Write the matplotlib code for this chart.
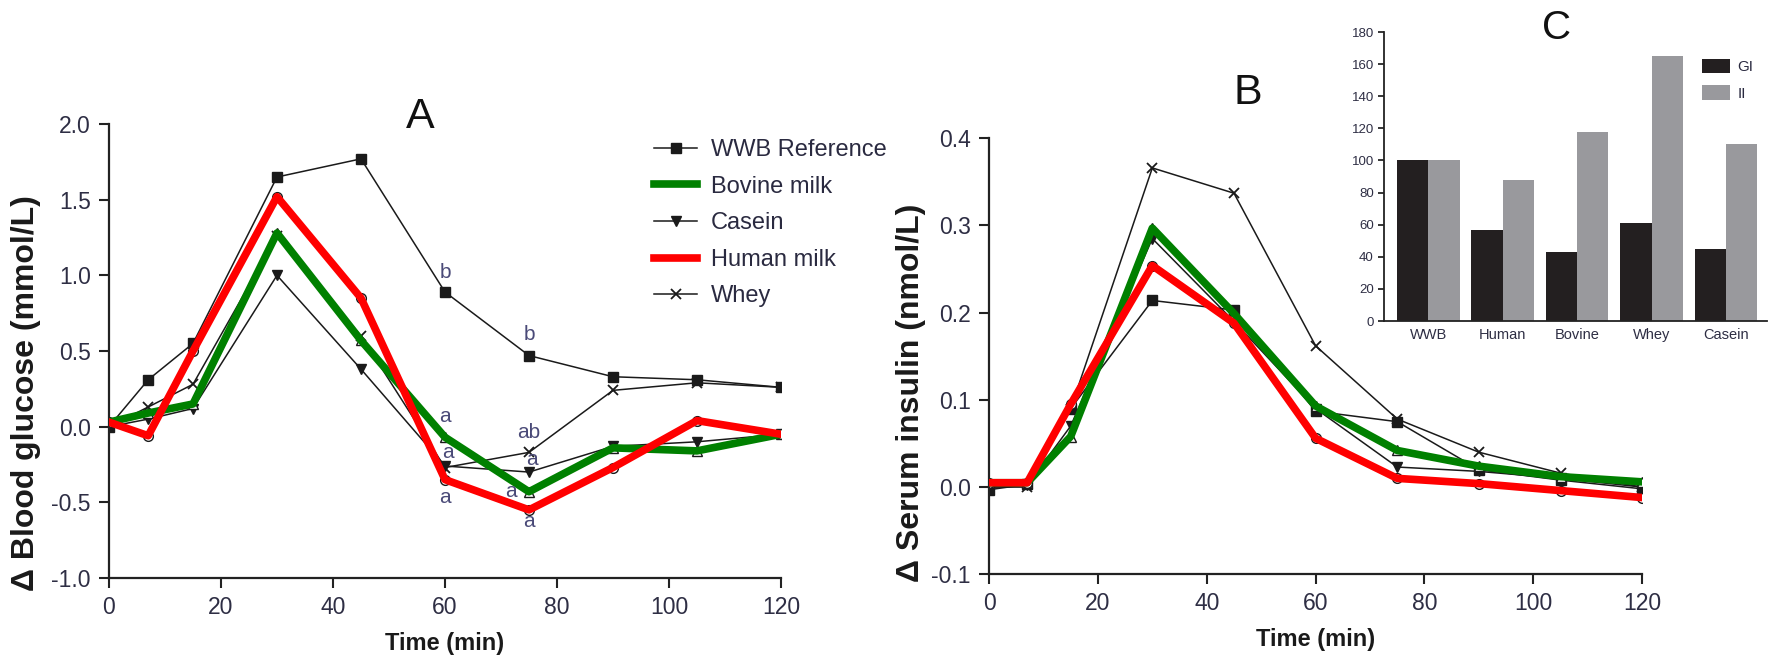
import matplotlib
matplotlib.use('Agg')
import matplotlib.pyplot as plt
from matplotlib.lines import Line2D
import numpy as np

plt.rcParams['font.family'] = ['Liberation Sans', 'DejaVu Sans']

# ─── Data ────────────────────────────────────────────────────────────────────

TIMES = [0, 7, 15, 30, 45, 60, 75, 90, 105, 120]

# Panel A: change in blood glucose (mmol/L)
WWB_A = [0.0, 0.31, 0.55, 1.65, 1.77, 0.89, 0.47, 0.33, 0.31, 0.26]
BOVINE_A = [0.03, 0.09, 0.15, 1.28, 0.57, -0.07, -0.43, -0.14, -0.16, -0.05]
CASEIN_A = [0.0, 0.05, 0.12, 1.0, 0.38, -0.26, -0.30, -0.13, -0.10, -0.05]
HUMAN_A = [0.03, -0.06, 0.50, 1.52, 0.85, -0.35, -0.55, -0.27, 0.04, -0.05]
WHEY_A = [0.0, 0.13, 0.28, 1.26, 0.60, -0.27, -0.17, 0.24, 0.29, 0.26]

# significance letters (time, value, letter)
LETTERS_A = [
    (60, 1.02, 'b'), (75, 0.61, 'b'),
    (60, 0.07, 'a'), (60.5, -0.17, 'a'), (60, -0.47, 'a'),
    (75, -0.04, 'ab'), (75.5, -0.22, 'a'), (71.7, -0.43, 'a'), (75, -0.63, 'a'),
]

# Panel B: change in serum insulin (nmol/L)
WWB_B = [-0.003, 0.003, 0.09, 0.214, 0.203, 0.087, 0.075, 0.02, 0.008, -0.002]
BOVINE_B = [0.005, 0.005, 0.058, 0.297, 0.199, 0.093, 0.042, 0.024, 0.012, 0.006]
CASEIN_B = [0.0, 0.002, 0.07, 0.285, 0.19, 0.09, 0.023, 0.018, 0.01, 0.0]
HUMAN_B = [0.005, 0.005, 0.095, 0.254, 0.188, 0.056, 0.01, 0.004, -0.004, -0.012]
WHEY_B = [0.0, 0.0, 0.09, 0.366, 0.337, 0.162, 0.078, 0.04, 0.016, 0.0]

# Panel C: glycaemic / insulinaemic index
C_GROUPS = ['WWB', 'Human', 'Bovine', 'Whey', 'Casein']
GI = [100, 57, 43, 61, 45]
II = [100, 88, 118, 165, 110]

TEXT = '#2e2e44'
RED = '#ff0000'
GREEN = '#008000'


def style_axes(ax):
    for side in ('top', 'right'):
        ax.spines[side].set_visible(False)
    for side in ('left', 'bottom'):
        ax.spines[side].set_linewidth(1.6)
        ax.spines[side].set_color('#222222')
    ax.tick_params(direction='out', length=7, width=1.5, colors='#222222',
                   labelcolor=TEXT, labelsize=16.5, pad=6)


def draw_curves(ax, wwb, bovine, casein, human, whey):
    kw = dict(color='#1a1a1a', lw=1.1, markersize=7)
    ax.plot(TIMES, wwb, marker='s', **kw)
    ax.plot(TIMES, casein, marker='v', **kw)
    ax.plot(TIMES, whey, marker='x', mew=1.3, **kw)
    ax.plot(TIMES, bovine, marker='^', mfc='white', **kw)
    ax.plot(TIMES, human, marker='o', mfc='white', **kw)
    ax.plot(TIMES, bovine, color=GREEN, lw=5.5, zorder=4)
    ax.plot(TIMES, human, color=RED, lw=5.5, zorder=5)


fig = plt.figure(figsize=(17.75, 6.55), dpi=100)

# ─── Panel A ─────────────────────────────────────────────────────────────────
ax_a = fig.add_axes([0.0614, 0.1176, 0.3786, 0.693])
draw_curves(ax_a, WWB_A, BOVINE_A, CASEIN_A, HUMAN_A, WHEY_A)
for t, v, s in LETTERS_A:
    ax_a.text(t, v, s, ha='center', va='center', fontsize=15, color='#4a4a78', zorder=6)
ax_a.set_xlim(0, 120)
ax_a.set_ylim(-1.0, 2.0)
ax_a.set_xticks(np.arange(0, 121, 20))
ax_a.set_yticks(np.arange(-1.0, 2.01, 0.5))
ax_a.yaxis.set_major_formatter(matplotlib.ticker.FormatStrFormatter('%.1f'))
style_axes(ax_a)
ax_a.set_xlabel('Time (min)', fontsize=17, fontweight='bold', color='#1a1a1a', labelpad=9)
fig.text(0.0146, 0.40, u'\u0394 Blood glucose (mmol/L)', rotation=90, ha='center', va='center',
         fontsize=23, fontweight='bold', color='#1a1a1a')
fig.text(0.237, 0.821, 'A', ha='center', va='center', fontsize=31, color='#111111')

handles = [
    Line2D([], [], color='#1a1a1a', lw=1.1, marker='s', markersize=7),
    Line2D([], [], color=GREEN, lw=5.5),
    Line2D([], [], color='#1a1a1a', lw=1.1, marker='v', markersize=7),
    Line2D([], [], color=RED, lw=5.5),
    Line2D([], [], color='#1a1a1a', lw=1.1, marker='x', markersize=7, mew=1.3),
]
labels = ['WWB Reference', 'Bovine milk', 'Casein', 'Human milk', 'Whey']
fig.legend(handles, labels, loc='upper left', bbox_to_anchor=(0.362, 0.806), frameon=False,
           fontsize=17, handlelength=1.8, handletextpad=0.6, labelspacing=0.62,
           borderpad=0, labelcolor='#2a2a40')

# ─── Panel B ─────────────────────────────────────────────────────────────────
ax_b = fig.add_axes([0.5572, 0.1232, 0.368, 0.6657])
draw_curves(ax_b, WWB_B, BOVINE_B, CASEIN_B, HUMAN_B, WHEY_B)
ax_b.set_xlim(0, 120)
ax_b.set_ylim(-0.1, 0.4)
ax_b.set_xticks(np.arange(0, 121, 20))
ax_b.set_yticks(np.arange(-0.1, 0.41, 0.1))
ax_b.yaxis.set_major_formatter(matplotlib.ticker.FormatStrFormatter('%.1f'))
style_axes(ax_b)
ax_b.set_xlabel('Time (min)', fontsize=17, fontweight='bold', color='#1a1a1a', labelpad=9)
fig.text(0.513, 0.40, u'\u0394 Serum insulin (nmol/L)', rotation=90, ha='center', va='center',
         fontsize=23, fontweight='bold', color='#1a1a1a')
fig.text(0.703, 0.858, 'B', ha='center', va='center', fontsize=31, color='#111111')

# ─── Panel C (inset bars) ────────────────────────────────────────────────────
ax_c = fig.add_axes([0.7795, 0.5099, 0.216, 0.4412])
x = np.arange(len(C_GROUPS))
w = 0.42
ax_c.bar(x - w / 2, GI, width=w, color='#231f20', label='GI')
ax_c.bar(x + w / 2, II, width=w, color='#99999d', label='II')
ax_c.set_xlim(-0.6, 4.55)
ax_c.set_ylim(0, 180)
ax_c.set_yticks(np.arange(0, 181, 20))
ax_c.set_xticks(x)
ax_c.set_xticklabels(C_GROUPS)
for side in ('top', 'right'):
    ax_c.spines[side].set_visible(False)
for side in ('left', 'bottom'):
    ax_c.spines[side].set_linewidth(1.3)
    ax_c.spines[side].set_color('#222222')
ax_c.tick_params(axis='y', direction='out', length=4, width=1.1, labelsize=9.5,
                 labelcolor=TEXT, pad=3)
ax_c.tick_params(axis='x', length=0, labelsize=10.5, labelcolor=TEXT, pad=5)
ax_c.legend(loc='upper right', bbox_to_anchor=(1.0, 0.955), frameon=False, fontsize=11,
            handlelength=1.8, handleheight=1.1, handletextpad=0.5, labelspacing=0.7,
            labelcolor='#2a2a40')
fig.text(0.877, 0.957, 'C', ha='center', va='center', fontsize=29, color='#111111')

fig.savefig('out.png', dpi=100, facecolor='white')
